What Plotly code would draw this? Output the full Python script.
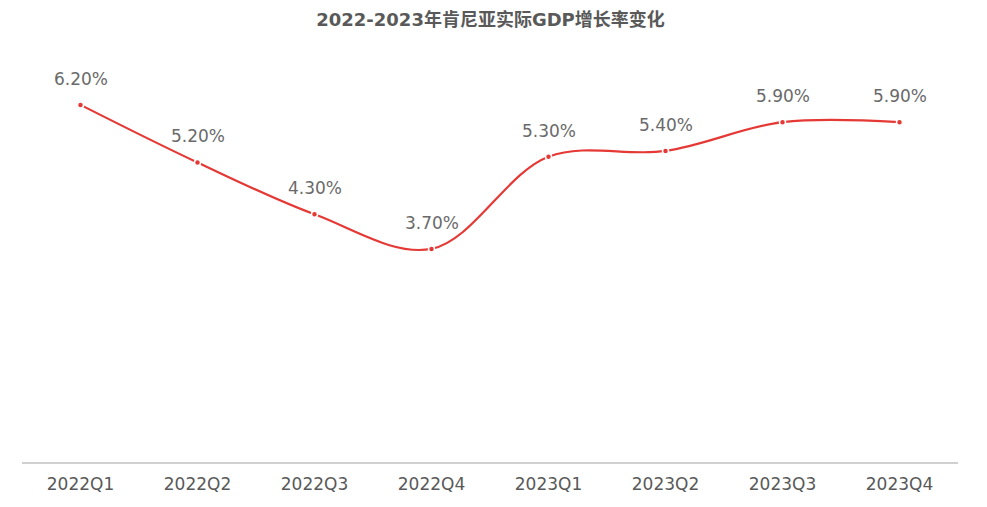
import plotly.graph_objects as go

categories = ["2022Q1", "2022Q2", "2022Q3", "2022Q4", "2023Q1", "2023Q2", "2023Q3", "2023Q4"]
gdp_growth = [6.2, 5.2, 4.3, 3.7, 5.3, 5.4, 5.9, 5.9]
labels = [f"{v:.2f}%" for v in gdp_growth]

RED = "#e53935"
FONT = "DejaVu Sans, Noto Sans CJK SC, sans-serif"
TITLE_FONT = "DejaVu Sans, Noto Sans CJK SC, sans-serif"

fig = go.Figure()
fig.add_trace(go.Scatter(
    x=categories, y=gdp_growth, mode="lines+markers",
    line=dict(color=RED, width=2.2, shape="spline", smoothing=1.0),
    marker=dict(size=6, color=RED, line=dict(color="#ffffff", width=1.5)),
    hoverinfo="skip", showlegend=False,
))
for c, v, t in zip(categories, gdp_growth, labels):
    fig.add_annotation(x=c, y=v, text=t, showarrow=False, yshift=26,
                       font=dict(family=FONT, size=17, color="#6a6a6a"))

fig.update_layout(
    width=987, height=507,
    margin=dict(l=22, r=29, t=30, b=45),
    paper_bgcolor="white", plot_bgcolor="white",
    title=dict(text="<b>2022-2023年肯尼亚实际GDP增长率变化</b>", x=0.497, xanchor="center",
               y=1 - 20 / 507, yanchor="middle", yref="container",
               font=dict(family=TITLE_FONT, size=18, color="#595959")),
    xaxis=dict(type="category", range=[-0.5, 7.5], showgrid=False, zeroline=False,
               showline=True, linecolor="#d0d0d0", linewidth=1.5, ticks="",
               ticklabelstandoff=6,
               tickfont=dict(family=FONT, size=17, color="#595959")),
    yaxis=dict(range=[0, 7.5], visible=False, showgrid=False, zeroline=False),
)
fig.write_html("out.html")
